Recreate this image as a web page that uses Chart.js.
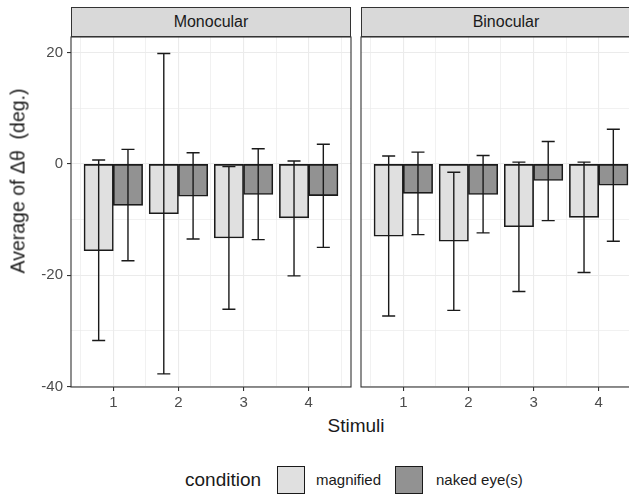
<!DOCTYPE html>
<html>
<head>
<meta charset="utf-8">
<script src="https://cdn.jsdelivr.net/npm/chart.js@4"></script>
<style>
  body { margin: 0; background: #fff; }
  #wrap { position: relative; width: 629px; height: 497px; overflow: hidden; background: #fff;
          font-family: "Liberation Sans", Arial, sans-serif; color: #1a1a1a; }
  .abs { position: absolute; }
  .strip { position: absolute; top: 7px; height: 30px; box-sizing: border-box; border: 1px solid #333;
           background: #d9d9d9; font-size: 16px; line-height: 28px; text-align: center; }
  .key { position: absolute; top: 466px; width: 28px; height: 28px; box-sizing: border-box; border: 1.5px solid #1a1a1a; }
</style>
</head>
<body>
<div id="wrap">
  <canvas id="mono" class="abs" width="356" height="415" style="left:0;top:0"></canvas>
  <canvas id="bino" class="abs" width="290" height="415" style="left:356px;top:0"></canvas>
  <div class="strip" style="left:71px;width:280px">Monocular</div>
  <div class="strip" style="left:361px;width:290px">Binocular</div>
  <div class="abs" style="left:18px;top:181px;width:0;height:0">
    <div style="position:absolute;transform:translate(-50%,-50%) rotate(-90deg);white-space:pre;font-size:19.5px;">Average of Δθ  (deg.)</div>
  </div>
  <div class="abs" style="left:356px;top:426px;width:0;height:0">
    <div style="position:absolute;transform:translate(-50%,-50%);white-space:pre;font-size:19px;">Stimuli</div>
  </div>
  <div class="abs" style="left:185px;top:468px;font-size:19px;line-height:24px">condition</div>
  <div class="key" style="left:277px;background:#e0e0e0"></div>
  <div class="abs" style="left:316px;top:471px;font-size:15px;line-height:18px">magnified</div>
  <div class="key" style="left:395px;background:#929292"></div>
  <div class="abs" style="left:436px;top:471px;font-size:15px;line-height:18px">naked eye(s)</div>
</div>
<script>
const stimuli = [1, 2, 3, 4]
const xTicks = [0.5, 1, 1.5, 2, 2.5, 3, 3.5, 4, 4.5]
const yTicks = [-40, -30, -20, -10, 0, 10, 20]

// Monocular panel
const monoMag = [-15.6, -8.95, -13.3, -9.7]
const monoMagLo = [-31.7, -37.7, -26.1, -20.1]
const monoMagHi = [0.7, 19.8, -0.5, 0.5]
const monoNaked = [-7.45, -5.8, -5.5, -5.7]
const monoNakedLo = [-17.4, -13.5, -13.6, -15.0]
const monoNakedHi = [2.6, 2.0, 2.7, 3.5]

// Binocular panel
const binoMag = [-13.0, -13.9, -11.3, -9.6]
const binoMagLo = [-27.3, -26.3, -22.9, -19.5]
const binoMagHi = [1.4, -1.5, 0.3, 0.3]
const binoNaked = [-5.3, -5.5, -3.0, -3.85]
const binoNakedLo = [-12.7, -12.4, -10.2, -13.9]
const binoNakedHi = [2.1, 1.5, 4.0, 6.2]

const FONT = '"Liberation Sans", Arial, sans-serif'
const CAP = 0.2

const isMajorX = (c) => !!c.tick && Number.isInteger(c.tick.value)
const isMajorY = (c) => !!c.tick && c.tick.value % 20 === 0

const panelPlugin = {
  id: 'panel',
  afterDatasetsDraw (chart) {
    const { ctx, chartArea: a, scales: { x, y } } = chart
    ctx.save()
    ctx.strokeStyle = '#1a1a1a'
    ctx.lineWidth = 1.4
    const half = (x.getPixelForValue(CAP) - x.getPixelForValue(0)) / 2
    chart.data.datasets.forEach((ds, i) => {
      chart.getDatasetMeta(i).data.forEach((bar, j) => {
        const lo = y.getPixelForValue(ds.errLo[j])
        const hi = y.getPixelForValue(ds.errHi[j])
        ctx.beginPath()
        ctx.moveTo(bar.x, lo); ctx.lineTo(bar.x, hi)
        ctx.moveTo(bar.x - half, lo); ctx.lineTo(bar.x + half, lo)
        ctx.moveTo(bar.x - half, hi); ctx.lineTo(bar.x + half, hi)
        ctx.stroke()
      })
    })
    ctx.strokeStyle = '#333'
    ctx.lineWidth = 1.1
    ctx.strokeRect(a.left, a.top, a.right - a.left, a.bottom - a.top)
    ctx.restore()
  }
}

const makePanel = (id, mag, magLo, magHi, naked, nakedLo, nakedHi, showY) => {
  const ctx = document.getElementById(id).getContext('2d')
  return new Chart(ctx, {
    type: 'bar',
    data: {
      datasets: [{
        label: 'magnified',
        data: stimuli.map((s, i) => ({ x: s, y: mag[i] })),
        errLo: magLo,
        errHi: magHi,
        backgroundColor: '#e0e0e0',
        borderColor: '#1a1a1a',
        borderWidth: 1.6,
        borderSkipped: false,
        barThickness: 29.3
      }, {
        label: 'naked eye(s)',
        data: stimuli.map((s, i) => ({ x: s, y: naked[i] })),
        errLo: nakedLo,
        errHi: nakedHi,
        backgroundColor: '#929292',
        borderColor: '#1a1a1a',
        borderWidth: 1.6,
        borderSkipped: false,
        barThickness: 29.3
      }]
    },
    options: {
      responsive: false,
      animation: false,
      layout: { padding: { top: 37, bottom: 0, left: showY ? 0 : 5, right: 5 } },
      plugins: { legend: { display: false }, tooltip: { enabled: false } },
      scales: {
        x: {
          type: 'linear',
          min: 0.35,
          max: 4.65,
          offset: false,
          afterBuildTicks: (axis) => { axis.ticks = xTicks.map(v => ({ value: v })) },
          afterFit: (axis) => { axis.height = 28 },
          border: { display: false },
          grid: {
            offset: false,
            color: '#ebebeb',
            lineWidth: (c) => isMajorX(c) ? 1.1 : 0.7,
            tickColor: (c) => isMajorX(c) ? '#333' : 'rgba(0,0,0,0)',
            tickWidth: 1.1,
            tickLength: 4
          },
          ticks: {
            autoSkip: false,
            maxRotation: 0,
            padding: 3,
            color: '#4d4d4d',
            font: { family: FONT, size: 15 },
            callback: (v) => Number.isInteger(v) ? String(v) : ''
          }
        },
        y: {
          min: -40.05,
          max: 22.76,
          afterBuildTicks: (axis) => { axis.ticks = yTicks.map(v => ({ value: v })) },
          afterFit: (axis) => { axis.width = showY ? 71 : 0 },
          border: { display: false },
          grid: {
            color: '#ebebeb',
            lineWidth: (c) => isMajorY(c) ? 1.1 : 0.7,
            tickColor: (c) => isMajorY(c) ? '#333' : 'rgba(0,0,0,0)',
            tickWidth: 1.1,
            tickLength: 4,
            drawTicks: showY
          },
          ticks: {
            display: showY,
            autoSkip: false,
            padding: 4,
            color: '#4d4d4d',
            font: { family: FONT, size: 15 },
            callback: (v) => v % 20 === 0 ? String(v) : ''
          }
        }
      }
    },
    plugins: [panelPlugin]
  })
}

makePanel('mono', monoMag, monoMagLo, monoMagHi, monoNaked, monoNakedLo, monoNakedHi, true)
makePanel('bino', binoMag, binoMagLo, binoMagHi, binoNaked, binoNakedLo, binoNakedHi, false)
</script>
</body>
</html>
